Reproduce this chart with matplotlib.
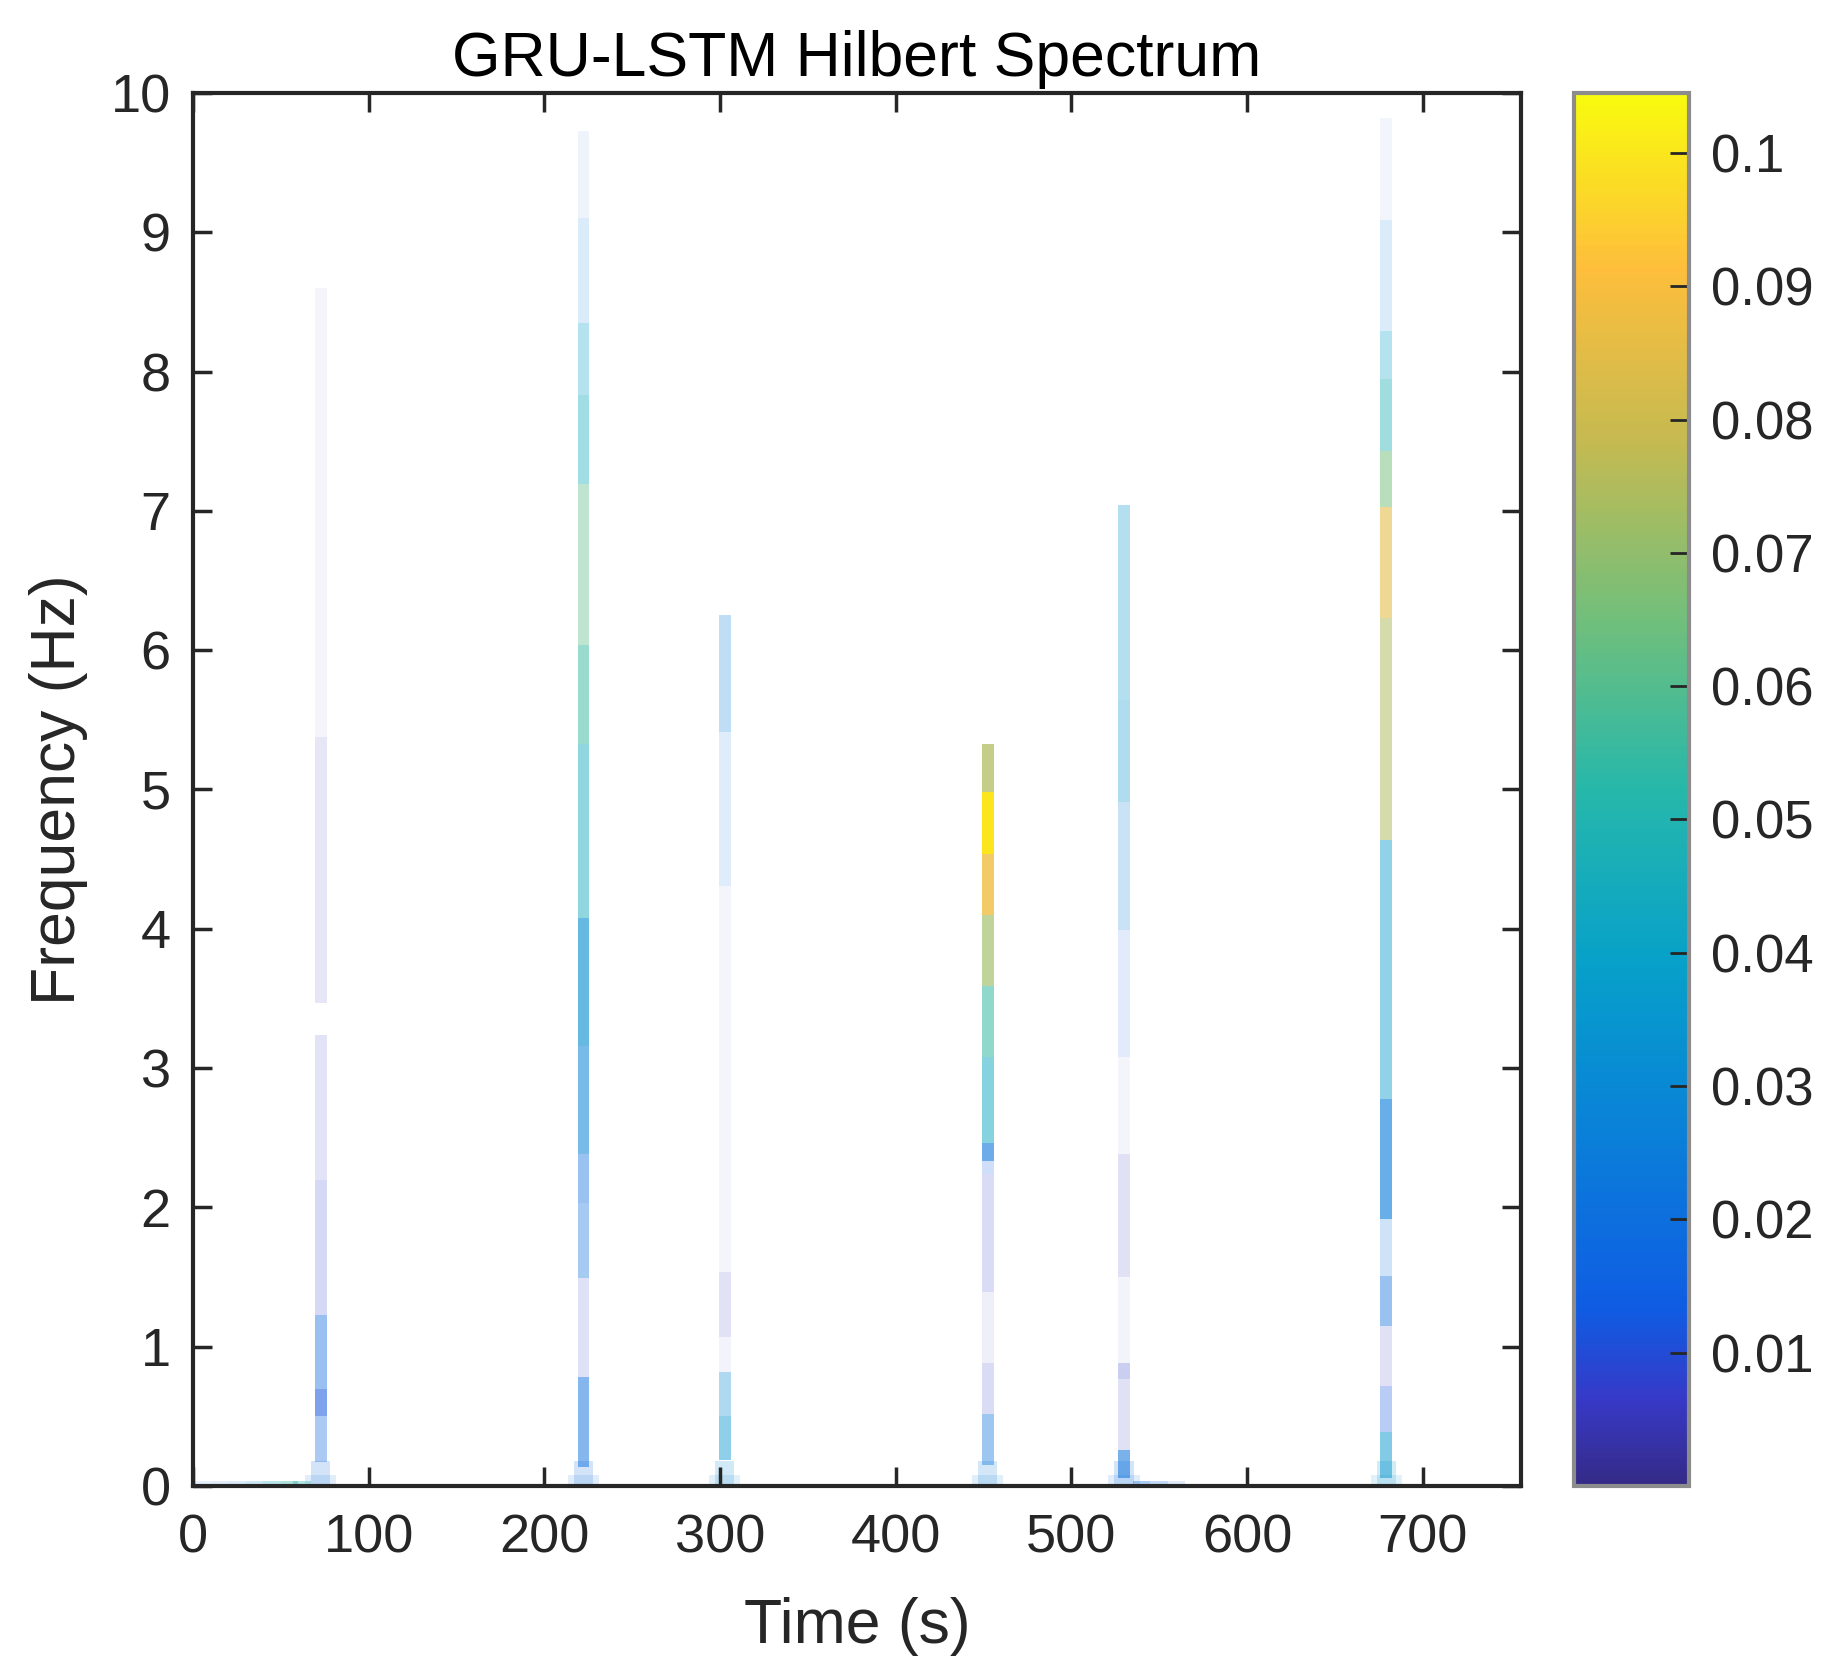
import matplotlib
matplotlib.use("Agg")
import matplotlib.pyplot as plt
from matplotlib.colors import LinearSegmentedColormap, Normalize
from matplotlib.cm import ScalarMappable

plt.rcParams["font.family"] = ["Liberation Sans", "DejaVu Sans"]

# time (s) of each burst in the spectrum
line_t = [72.8, 222.3, 302.7, 452.4, 530.0, 679.3]

# frequency break points (Hz), amplitude and opacity for each burst, bottom -> top
f1 = [0.17, 0.5, 0.7, 1.23, 2.2, 3.24, 3.47, 5.38, 8.6]
v1 = [0.018, 0.012, 0.018, 0.008, 0.007, 0.0, 0.005, 0.004]
a1 = [0.35, 0.55, 0.42, 0.2, 0.14, 0.0, 0.12, 0.05]

f2 = [0.14, 0.78, 1.49, 2.03, 2.38, 3.16, 4.08, 5.33, 6.04, 7.19, 7.83, 8.35, 9.1, 9.73]
v2 = [0.02, 0.008, 0.02, 0.02, 0.028, 0.033, 0.045, 0.055, 0.062, 0.045, 0.04, 0.025, 0.012]
a2 = [0.5, 0.15, 0.36, 0.42, 0.55, 0.62, 0.48, 0.5, 0.4, 0.4, 0.3, 0.15, 0.07]

f3 = [0.19, 0.5, 0.82, 1.07, 1.54, 4.31, 5.41, 6.25]
v3 = [0.035, 0.03, 0.006, 0.006, 0.006, 0.02, 0.026]
a3 = [0.45, 0.32, 0.06, 0.14, 0.05, 0.13, 0.26]

f4 = [0.15, 0.52, 0.88, 1.39, 2.24, 2.33, 2.46, 3.08, 3.59, 4.1, 4.54, 4.98, 5.33]
v4 = [0.022, 0.007, 0.006, 0.007, 0.015, 0.022, 0.043, 0.055, 0.072, 0.088, 0.1, 0.075]
a4 = [0.4, 0.18, 0.08, 0.18, 0.2, 0.6, 0.5, 0.55, 0.65, 0.8, 1.0, 0.72]

f5 = [0.06, 0.26, 0.77, 0.88, 1.5, 2.38, 3.08, 3.99, 4.91, 5.64, 7.04]
v5 = [0.022, 0.006, 0.008, 0.005, 0.006, 0.005, 0.015, 0.025, 0.035, 0.035]
a5 = [0.55, 0.15, 0.25, 0.06, 0.15, 0.05, 0.12, 0.22, 0.32, 0.3]

f6 = [0.06, 0.39, 0.72, 1.15, 1.51, 1.92, 2.78, 4.64, 6.23, 7.03, 7.43, 7.95, 8.29, 9.09, 9.82]
v6 = [0.035, 0.012, 0.006, 0.02, 0.02, 0.025, 0.036, 0.075, 0.085, 0.065, 0.048, 0.04, 0.025, 0.01]
a6 = [0.5, 0.3, 0.15, 0.42, 0.2, 0.62, 0.44, 0.52, 0.58, 0.5, 0.42, 0.3, 0.15, 0.05]

bursts = [(f1, v1, a1), (f2, v2, a2), (f3, v3, a3), (f4, v4, a4), (f5, v5, a5), (f6, v6, a6)]

# low frequency spread at the foot of each burst
foot_v = [0.02, 0.02, 0.03, 0.025, 0.02, 0.035]

# slow drift component hugging 0 Hz
tail_t = [5, 15, 25, 35, 45, 55, 62, 540, 550, 560]
tail_v = [0.02, 0.02, 0.025, 0.03, 0.045, 0.055, 0.05, 0.02, 0.02, 0.015]
tail_a = [0.1, 0.12, 0.15, 0.2, 0.3, 0.4, 0.35, 0.35, 0.25, 0.12]

x_ticks = [0, 100, 200, 300, 400, 500, 600, 700]
y_ticks = [0, 1, 2, 3, 4, 5, 6, 7, 8, 9, 10]
cb_ticks = [0.01, 0.02, 0.03, 0.04, 0.05, 0.06, 0.07, 0.08, 0.09, 0.1]
cb_labels = ["0.01", "0.02", "0.03", "0.04", "0.05", "0.06", "0.07", "0.08", "0.09", "0.1"]

# parula-like map
parula = LinearSegmentedColormap.from_list("parula", [
    (0.000, (0.208, 0.166, 0.529)),
    (0.060, (0.215, 0.225, 0.780)),
    (0.125, (0.060, 0.360, 0.890)),
    (0.250, (0.040, 0.500, 0.850)),
    (0.375, (0.025, 0.630, 0.790)),
    (0.500, (0.150, 0.720, 0.670)),
    (0.625, (0.450, 0.750, 0.480)),
    (0.750, (0.770, 0.730, 0.320)),
    (0.875, (0.995, 0.745, 0.235)),
    (1.000, (0.976, 0.983, 0.054)),
])
norm = Normalize(0, 0.1045)

dark = "#262626"
fig = plt.figure(figsize=(18.31, 16.78), dpi=100)
ax = fig.add_axes([0.1054, 0.1144, 0.7253, 0.8302])
cax = fig.add_axes([0.8596, 0.1144, 0.0628, 0.8302])

w = 6.8
for t, (f, v, a), fv in zip(line_t, bursts, foot_v):
    for i in range(len(v)):
        if a[i] <= 0:
            continue
        ax.bar(t, f[i + 1] - f[i], bottom=f[i], width=w, color=parula(norm(v[i])),
               alpha=a[i], linewidth=0, align="center")
    # soft spread at the foot
    ax.bar(t, 0.08, bottom=0.0, width=w * 2.6, color=parula(norm(fv)), alpha=0.12, linewidth=0)
    ax.bar(t, 0.18, bottom=0.0, width=w * 1.6, color=parula(norm(fv)), alpha=0.18, linewidth=0)

for t, v, a in zip(tail_t, tail_v, tail_a):
    ax.bar(t, 0.035, bottom=0.0, width=10, color=parula(norm(v)), alpha=a, linewidth=0)

ax.set_xlim(0, 756)
ax.set_ylim(0, 10)
ax.set_xticks(x_ticks)
ax.set_yticks(y_ticks)
ax.tick_params(direction="in", length=14, width=2.5, labelsize=39, colors=dark,
               top=True, right=True)
ax.tick_params(axis="x", pad=20)
ax.tick_params(axis="y", pad=16)
for s in ax.spines.values():
    s.set_linewidth(3)
    s.set_color(dark)
ax.set_xlabel("Time (s)", fontsize=45, color=dark, labelpad=24)
ax.set_ylabel("Frequency (Hz)", fontsize=45, color=dark, labelpad=16)
ax.set_title("GRU-LSTM Hilbert Spectrum", fontsize=45, color="black", pad=12)

sm = ScalarMappable(norm=norm, cmap=parula)
cb = fig.colorbar(sm, cax=cax)
cb.set_ticks(cb_ticks)
cb.set_ticklabels(cb_labels)
cax.tick_params(direction="in", length=14, width=2, labelsize=38, colors=dark, pad=16)
cb.outline.set_edgecolor("#8c8c8c")
cb.outline.set_linewidth(3)

fig.savefig("out.png", dpi=100, facecolor="white")
